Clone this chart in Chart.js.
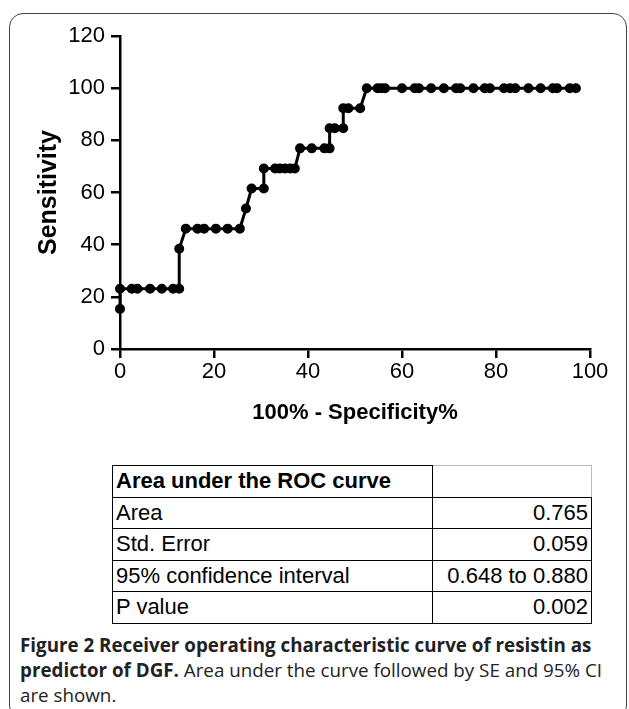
<!DOCTYPE html>
<html>
<head>
<meta charset="utf-8">
<script src="https://cdn.jsdelivr.net/npm/chart.js@4.4.0/dist/chart.umd.min.js"></script>
<style>
  body { margin: 0; width: 629px; height: 709px; background: #fff; position: relative; overflow: hidden; }
  #frame { position: absolute; left: 9px; top: 13px; width: 616px; height: 705px;
           border: 1.5px solid #444; border-radius: 14px; }
  #wrap { position: absolute; left: 0; top: 0; width: 629px; height: 430px; }
  #roc-table { position: absolute; left: 112px; top: 465px; width: 480px; border-collapse: collapse;
               font-family: "Liberation Sans", Arial, sans-serif; font-size: 22px; color: #000; }
  #roc-table td { border: 1.5px solid #000; height: 30.5px; padding: 0 3px; line-height: 1; }
  #roc-table td.num { text-align: right; width: 152px; }
  #roc-table tr.head td { font-weight: bold; }
  #roc-table tr.head td.blank { border-top-color: #bbb; border-right-color: #bbb; }
  #caption { position: absolute; left: 20px; top: 633px; width: 605px; font-family: "Open Sans", sans-serif;
             font-size: 18.8px; line-height: 25px; color: #222; }
  #caption b { font-weight: bold; }
</style>
</head>
<body>
<div id="frame"></div>
<div id="wrap"><canvas id="roc-chart" width="629" height="430"></canvas></div>

<table id="roc-table">
  <tr class="head"><td>Area under the ROC curve</td><td class="num blank"></td></tr>
</table>

<div id="caption"><b>Figure 2 Receiver operating characteristic curve of resistin as predictor of DGF.</b> Area under the curve followed by SE and 95% CI are shown.</div>

<script>
// ROC points: 100% - specificity% vs sensitivity%
const fpr = [0, 0, 2.5, 3.7, 6.4, 8.9, 11.3, 12.6, 12.6, 14.0, 16.5, 17.9, 20.4, 22.9, 25.5,
  26.8, 28.0, 30.6, 30.6, 33.0, 34.0, 35.1, 36.2, 37.2, 38.3, 40.8, 43.5, 44.6, 44.6, 45.7, 47.5,
  47.5, 48.6, 51.1, 52.5, 54.8, 55.6, 56.4, 60.0, 62.7, 63.6, 66.2, 68.9, 71.5, 72.4, 75.2, 77.6,
  78.7, 81.7, 83.0, 84.1, 86.9, 89.5, 92.1, 93.0, 95.7, 97.0];
const tpr = [15.38, 23.08, 23.08, 23.08, 23.08, 23.08, 23.08, 23.08, 38.46, 46.15, 46.15, 46.15, 46.15, 46.15, 46.15,
  53.85, 61.54, 61.54, 69.23, 69.23, 69.23, 69.23, 69.23, 69.23, 76.92, 76.92, 76.92, 76.92, 84.62, 84.62, 84.62,
  92.31, 92.31, 92.31, 100, 100, 100, 100, 100, 100, 100, 100, 100, 100, 100, 100, 100,
  100, 100, 100, 100, 100, 100, 100, 100, 100, 100];

const xTicks = [0, 20, 40, 60, 80, 100];
const yTicks = [0, 20, 40, 60, 80, 100, 120];

const tableRows = [
  ["Area", "0.765"],
  ["Std. Error", "0.059"],
  ["95% confidence interval", "0.648 to 0.880"],
  ["P value", "0.002"]
];

const tbl = document.getElementById("roc-table");
tableRows.forEach(r => {
  const tr = document.createElement("tr");
  tr.innerHTML = `<td>${r[0]}</td><td class="num">${r[1]}</td>`;
  tbl.appendChild(tr);
});

const font = "'Liberation Sans', Arial, sans-serif";

new Chart(document.getElementById("roc-chart").getContext("2d"), {
  type: "scatter",
  data: {
    datasets: [{
      data: fpr.map((x, i) => ({ x: x, y: tpr[i] })),
      showLine: true,
      borderColor: "#000",
      backgroundColor: "#000",
      borderWidth: 3,
      pointRadius: 3.5,
      pointHoverRadius: 3.5,
      clip: false
    }]
  },
  options: {
    responsive: false,
    animation: false,
    layout: { padding: { left: 30, top: 36, right: 39, bottom: 0 } },
    plugins: { legend: { display: false }, tooltip: { enabled: false } },
    scales: {
      x: {
        type: "linear", min: 0, max: 100,
        afterBuildTicks: s => { s.ticks = xTicks.map(v => ({ value: v })); },
        afterFit: s => { s.height = 81; },
        border: { color: "#000", width: 2.5 },
        grid: { drawOnChartArea: false, tickLength: 9, color: "#000", lineWidth: 2.5 },
        ticks: { color: "#000", font: { family: font, size: 22 }, padding: 1, maxRotation: 0 },
        title: { display: true, text: "100% - Specificity%", color: "#000",
                 font: { family: font, size: 22, weight: "bold" }, padding: { top: 1 } }
      },
      y: {
        type: "linear", min: 0, max: 120,
        afterBuildTicks: s => { s.ticks = yTicks.map(v => ({ value: v })); },
        afterFit: s => { s.width = 90; },
        border: { color: "#000", width: 2.5 },
        grid: { drawOnChartArea: false, tickLength: 9, color: "#000", lineWidth: 2.5 },
        ticks: { color: "#000", font: { family: font, size: 22 }, padding: 6 },
        title: { display: true, text: "Sensitivity", color: "#000",
                 font: { family: font, size: 25, weight: "bold" }, padding: { bottom: 2 } }
      }
    }
  }
});
</script>
</body>
</html>
